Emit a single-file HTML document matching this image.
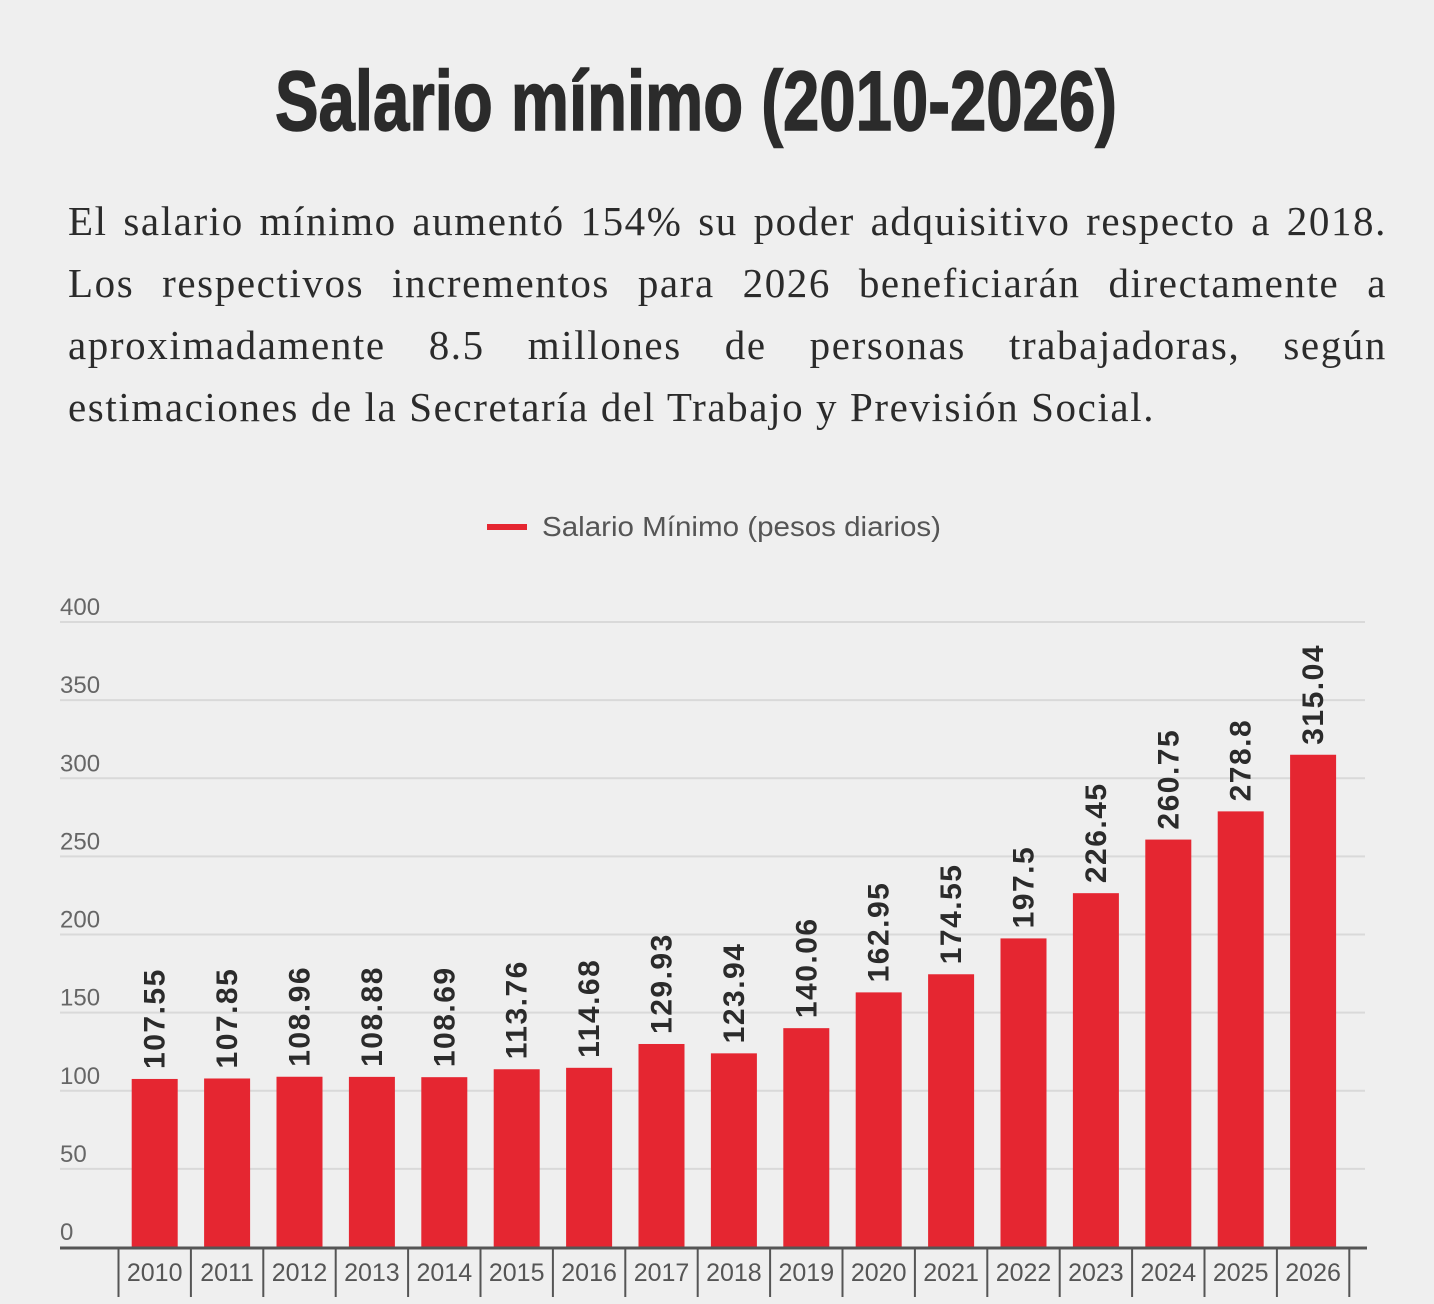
<!DOCTYPE html>
<html><head><meta charset="utf-8">
<style>
html,body{margin:0;padding:0;background:#efefef;}
body{width:1434px;height:1304px;position:relative;overflow:hidden;}
#para{position:absolute;left:68px;top:190px;width:1319px;font-family:"Liberation Serif",serif;font-size:41px;line-height:62px;color:#2b2b2b;margin:0;letter-spacing:1.6px;}
#para .ln{display:block;text-align:justify;text-align-last:justify;height:62px;white-space:nowrap;}
#para .ln.last{text-align-last:left;}
svg{position:absolute;left:0;top:0;}
</style></head><body>
<svg width="1434" height="1304" id="chart">
<text x="275" y="130" textLength="842" lengthAdjust="spacingAndGlyphs" font-family="Liberation Sans Narrow, Liberation Sans, sans-serif" font-weight="bold" font-size="84" fill="#2b2b2b" stroke="#2b2b2b" stroke-width="1.5">Salario mínimo (2010-2026)</text>
<g>
<rect x="487" y="524" width="40" height="6" fill="#e52631"/>
<text x="542" y="536" textLength="399" lengthAdjust="spacingAndGlyphs" font-family="Liberation Sans, sans-serif" font-size="28" fill="#555">Salario Mínimo (pesos diarios)</text>
</g>
<g id="grid"></g><g id="bars"></g><g id="xaxis"></g>
</svg>
<div id="para"><span class="ln">El salario mínimo aumentó 154% su poder adquisitivo respecto a 2018.</span><span class="ln">Los respectivos incrementos para 2026 beneficiarán directamente a</span><span class="ln">aproximadamente 8.5 millones de personas trabajadoras, según</span><span class="ln last">estimaciones de la Secretaría del Trabajo y Previsión Social.</span></div>
<script>
const categories=["2010","2011","2012","2013","2014","2015","2016","2017","2018","2019","2020","2021","2022","2023","2024","2025","2026"];
const values=[107.55,107.85,108.96,108.88,108.69,113.76,114.68,129.93,123.94,140.06,162.95,174.55,197.5,226.45,260.75,278.8,315.04];
const valueLabels=["107.55","107.85","108.96","108.88","108.69","113.76","114.68","129.93","123.94","140.06","162.95","174.55","197.5","226.45","260.75","278.8","315.04"];
const yTicks=[0,50,100,150,200,250,300,350,400];
const NS="http://www.w3.org/2000/svg";
const y0=1247,yTop=622,yMax=400;
function y(v){return y0-(v/yMax)*(y0-yTop);}
const bandL=118.5,bandW=72.4,barW=46;
function xc(i){return bandL+bandW*i+bandW/2;}
function mk(t,a,p){const e=document.createElementNS(NS,t);for(const k in a)e.setAttribute(k,a[k]);p.appendChild(e);return e;}
const grid=document.getElementById('grid'),bars=document.getElementById('bars'),xa=document.getElementById('xaxis');
yTicks.forEach(t=>{
  if(t>0){const l=mk('line',{x1:60,x2:1365,y1:y(t),y2:y(t),stroke:'#d9d9d9','stroke-width':2},grid);
  
  }
  const tx=mk('text',{x:60,y:y(t)-7,'font-family':'Liberation Sans, sans-serif','font-size':24,fill:'#666'},grid);
  tx.textContent=t;
  
  
});
values.forEach((v,i)=>{
  const r=mk('rect',{x:xc(i)-barW/2,y:y(v),width:barW,height:y0-y(v),fill:'#e52631'},bars);
  
  
  const tx=mk('text',{x:0,y:0,transform:`translate(${xc(i)+10},${y(v)-10}) rotate(-90)`,'font-family':'Liberation Sans, sans-serif','font-weight':'bold','font-size':30,'letter-spacing':1.5,fill:'#2b2b2b'},bars);
  tx.textContent=valueLabels[i];
  
  
  const s=mk('line',{x1:bandL+bandW*i,x2:bandL+bandW*i,y1:1249,y2:1297,stroke:'#555','stroke-width':2},xa);
  
  
  const lb=mk('text',{x:xc(i),y:1281,'text-anchor':'middle','font-family':'Liberation Sans, sans-serif','font-size':25,fill:'#555'},xa);
  lb.textContent=categories[i];
  
  
});
const e=mk('line',{x1:bandL+bandW*17,x2:bandL+bandW*17,y1:1249,y2:1297,stroke:'#555','stroke-width':2},xa);


const ax=mk('line',{x1:60,x2:1367,y1:1248,y2:1248,stroke:'#555','stroke-width':3},xa);


</script>
</body></html>
